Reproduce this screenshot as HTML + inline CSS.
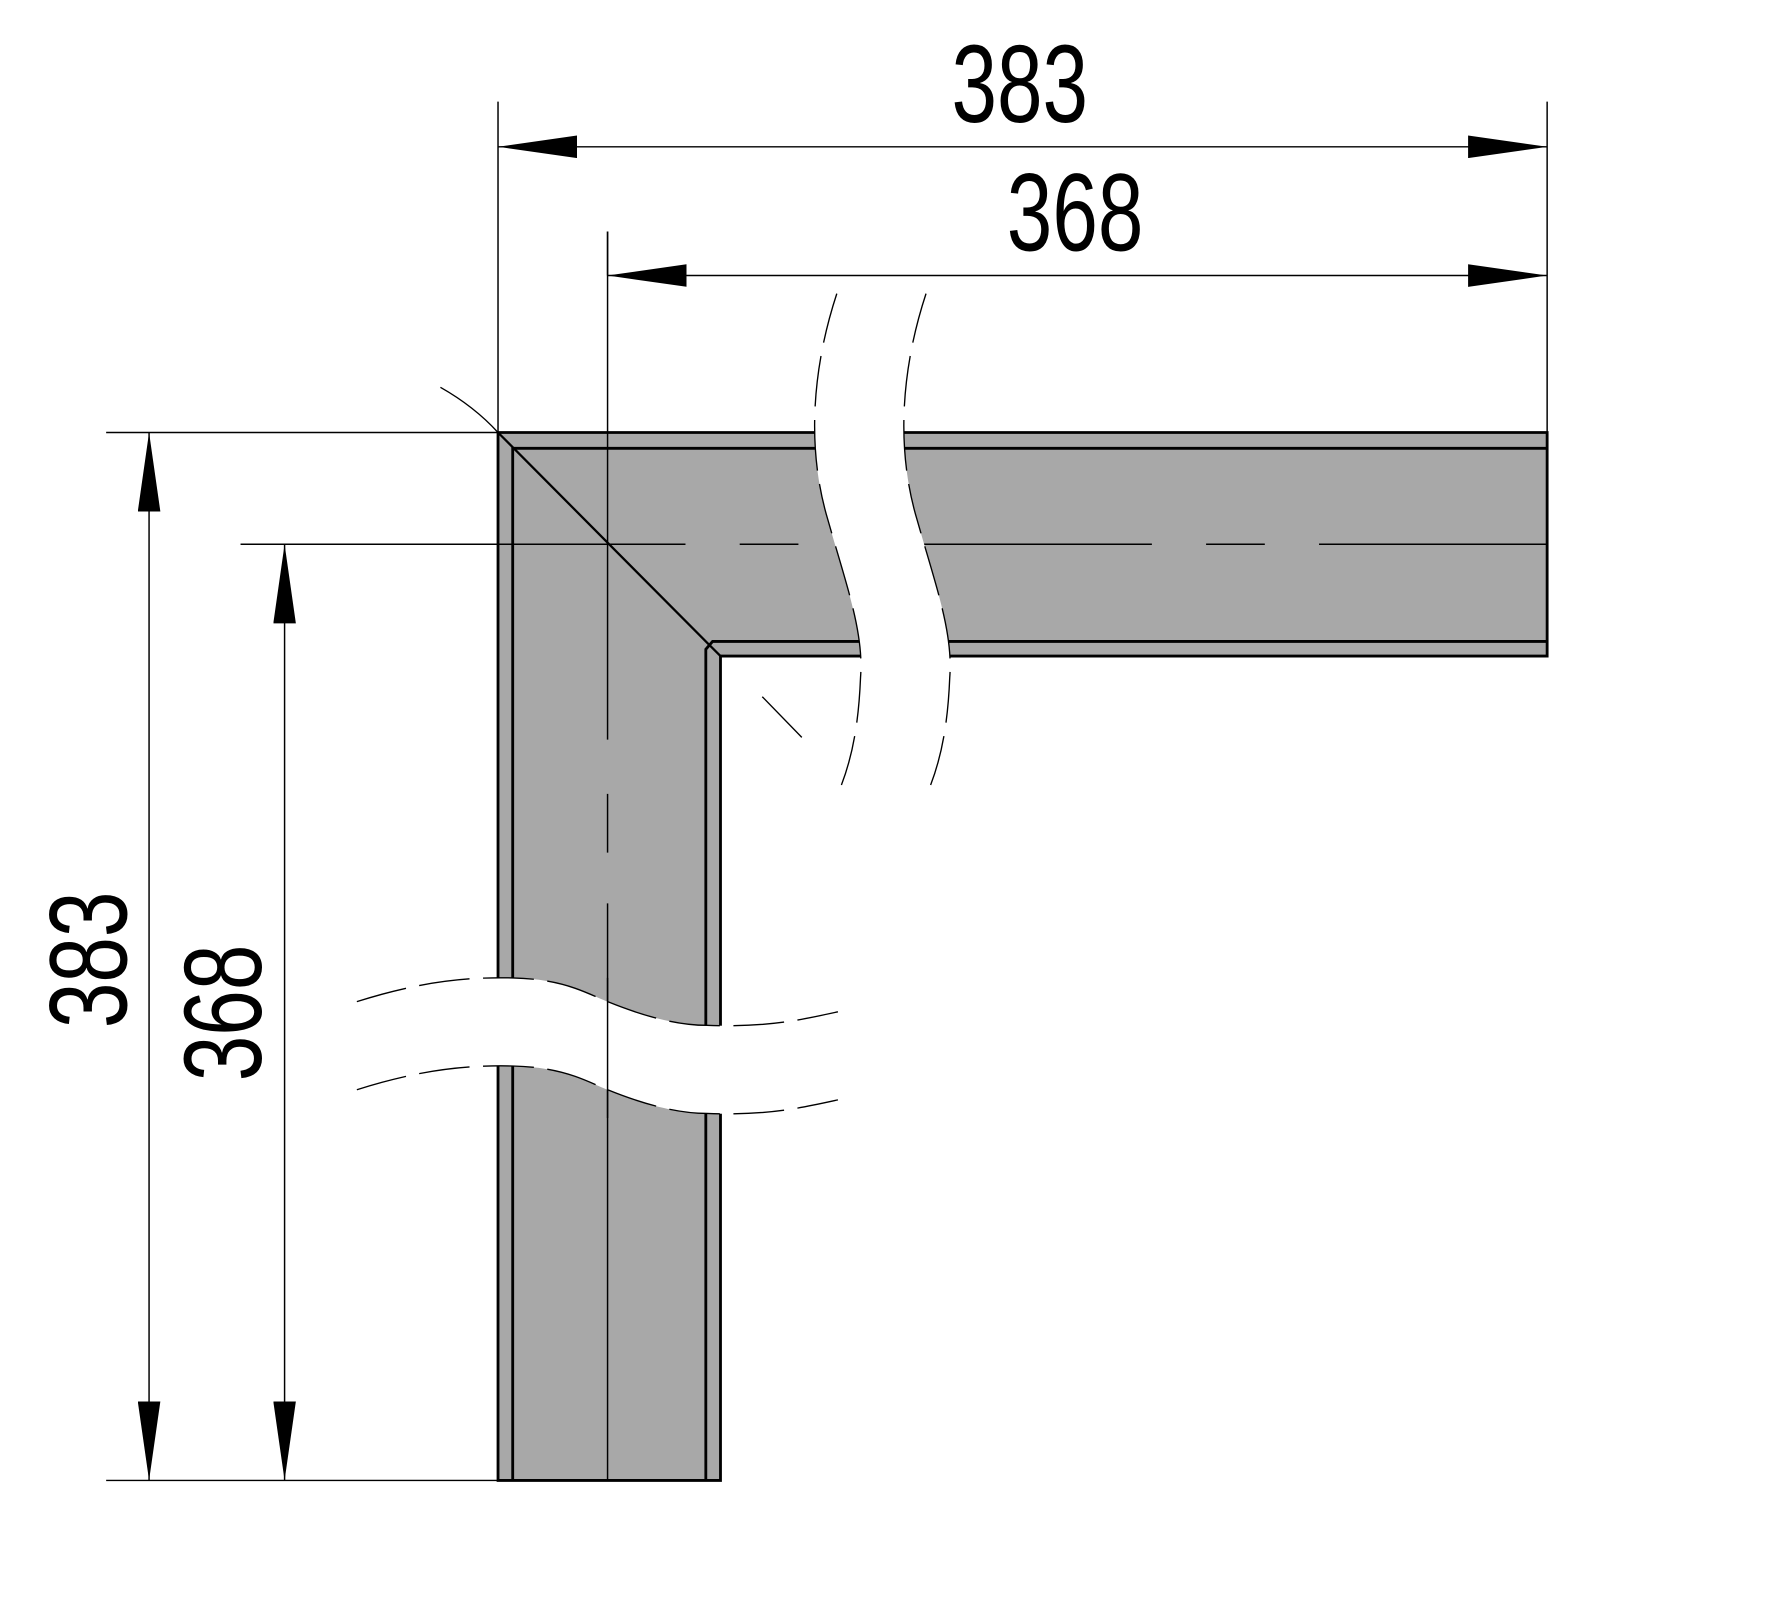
<!DOCTYPE html>
<html><head><style>html,body{margin:0;padding:0;background:#fff}svg{display:block}</style></head>
<body>
<svg width="1773" height="1599" viewBox="0 0 1570 1416" preserveAspectRatio="none" xmlns="http://www.w3.org/2000/svg">
<defs>
<marker id="a" viewBox="0 0 70 20" refX="70" refY="10" markerWidth="70" markerHeight="20" markerUnits="userSpaceOnUse" orient="auto-start-reverse"><path d="M0,0 L70,10 L0,20 Z" fill="#000"/></marker>
</defs>
<!-- profile body -->
<path d="M441,383 H1370 V581 H638 V1311 H441 Z" fill="#a8a8a8" stroke="#000" stroke-width="2.5"/>
<path d="M454,1311 V397 H1370" fill="none" stroke="#000" stroke-width="2.5"/>
<path d="M625,1311 V575 L631,568 H1370" fill="none" stroke="#000" stroke-width="2.5"/>
<path d="M441,383 L625,568 L638,581" fill="none" stroke="#000" stroke-width="2"/>
<!-- centerlines -->
<path d="M213,482 H607 M655,482 H707 M755,482 H1020 M1068,482 H1120 M1168,482 H1370" stroke="#000" stroke-width="1.3"/>
<path d="M538,205 V655 M538,703 V755 M538,800 V1311" stroke="#000" stroke-width="1.3"/>
<!-- top bar break -->
<path d="M741,260 C718,330 715,400 733,460 C750,520 765,560 762,600 C760,650 752,680 741,705 L820,705 C831,680 839,650 841,600 C844,560 829,520 812,460 C794,400 797,330 820,260 Z" fill="#fff"/>
<rect x="720" y="382" width="125" height="0" fill="none"/>
<path d="M741,260 C718,330 715,400 733,460 C750,520 765,560 762,600 C760,650 752,680 741,705" fill="none" stroke="#000" stroke-width="1.2" stroke-dasharray="45,12"/>
<path d="M820,260 C797,330 794,400 812,460 C829,520 844,560 841,600 C839,650 831,680 820,705" fill="none" stroke="#000" stroke-width="1.2" stroke-dasharray="45,12"/>
<!-- vertical bar break -->
<path d="M316,887 C370,870 410,865 454,866 C500,867 520,880 538,887 C570,900 600,908 626,908 C680,910 710,903 742,896 L742,974 C710,981 680,988 626,986 C600,986 570,978 538,965 C520,958 500,945 454,944 C410,943 370,948 316,965 Z" fill="#fff"/>
<path d="M538,866 V990" stroke="#000" stroke-width="1.3"/>
<path d="M316,887 C370,870 410,865 454,866 C500,867 520,880 538,887 C570,900 600,908 626,908 C680,910 710,903 742,896" fill="none" stroke="#000" stroke-width="1.2" stroke-dasharray="45,12"/>
<path d="M316,965 C370,948 410,943 454,944 C500,945 520,958 538,965 C570,978 600,986 626,986 C680,988 710,981 742,974" fill="none" stroke="#000" stroke-width="1.2" stroke-dasharray="45,12"/>
<path d="M441,866 V944 M454,866 V944 M625,908 V986 M638,908 V986" stroke="#fff" stroke-width="0"/>
<!-- small diagonals -->
<path d="M390,343 Q420,360 441,383" fill="none" stroke="#000" stroke-width="1.2"/>
<path d="M675,617 L710,653" stroke="#000" stroke-width="1.2"/>
<!-- extension lines -->
<g stroke="#000" stroke-width="1.3">
<path d="M441,90 V383 M1370,90 V383 M538,205 V244 M94,383 H441 M94,1311 H638"/>
</g>
<!-- dimension lines -->
<g stroke="#000" stroke-width="1.3" marker-start="url(#a)" marker-end="url(#a)">
<line x1="441" y1="130" x2="1370" y2="130"/>
<line x1="538" y1="244" x2="1370" y2="244"/>
<line x1="132" y1="383" x2="132" y2="1311"/>
<line x1="252" y1="482" x2="252" y2="1311"/>
</g>
<g font-family="Liberation Sans, sans-serif" font-size="98" fill="#000" text-anchor="middle">
<text transform="translate(903,108) scale(0.74,1)">383</text>
<text transform="translate(952,222) scale(0.74,1)">368</text>
<text transform="translate(112,850) rotate(-90) scale(0.74,1)">383</text>
<text transform="translate(231,897) rotate(-90) scale(0.74,1)">368</text>
</g>
</svg>
</body></html>
